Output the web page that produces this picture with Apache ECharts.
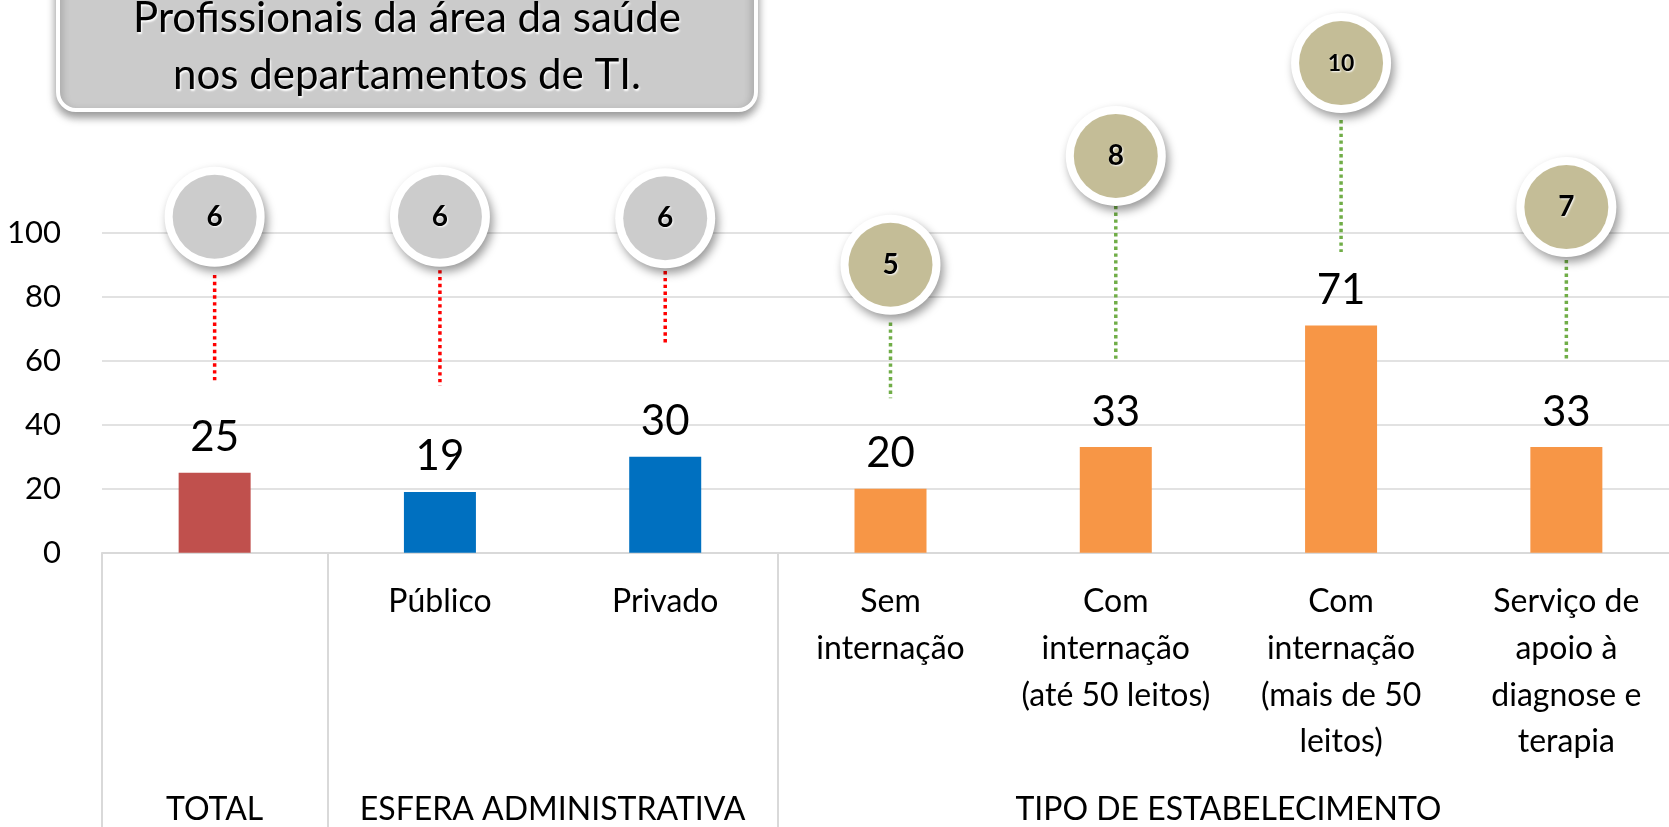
<!DOCTYPE html>
<html lang="pt">
<head>
    <meta charset="UTF-8">
    <title>Profissionais da área da saúde nos departamentos de TI</title>
    <script src="https://cdn.jsdelivr.net/npm/echarts@6/dist/echarts.min.js"></script>
    <style>
        * { padding: 0; margin: 0; }
        html, body { width: 100%; height: 100%; background: #fff; }
        #chart { width: 1669px; height: 827px; }
    </style>
</head>
<body>
    <div id="chart"></div>
</body>
</html>
<script>
    // categorias (rótulo de cada coluna)
    let categories = ['', 'Público', 'Privado', 'Sem\ninternação', 'Com\ninternação\n(até 50 leitos)',
        'Com\ninternação\n(mais de 50\nleitos)', 'Serviço de\napoio à\ndiagnose e\nterapia'];
    // grupos do eixo x
    let groupNames = ['TOTAL', 'ESFERA ADMINISTRATIVA', 'TIPO DE ESTABELECIMENTO'];
    let groupSpans = [1, 2, 4];
    // percentuais (barras)
    let values = [25, 19, 30, 20, 33, 71, 33];
    // número de profissionais (bolhas)
    let bubbleValues = [6, 6, 6, 5, 8, 10, 7];
    // altura das bolhas e das linhas pontilhadas, em unidades do eixo
    let bubbleY = [105, 105, 104.5, 90, 124, 153, 108];
    let leaderTop = [86.8, 88.3, 88, 71.9, 108.4, 135.2, 91.5];
    let leaderBottom = [53.3, 52.1, 64.6, 48.3, 60, 94, 60];
    let yTicks = [0, 20, 40, 60, 80, 100];

    let barColors = ['#c0504d', '#0070c0', '#0070c0', '#f79646', '#f79646', '#f79646', '#f79646'];
    let bubbleColors = ['#cccccc', '#cccccc', '#cccccc', '#c4bd97', '#c4bd97', '#c4bd97', '#c4bd97'];
    let leaderColors = ['#ff0000', '#ff0000', '#ff0000', '#70ad47', '#70ad47', '#70ad47', '#70ad47'];

    // limites e centros dos grupos
    let bounds = [0];
    let centers = [];
    groupSpans.forEach(function (s, i) {
        centers.push(bounds[i] + s / 2);
        bounds.push(bounds[i] + s);
    });

    const font = 'Lato';
    var myChart = echarts.init(document.getElementById('chart'));

    option = {
        animation: false,
        title: {
            text: 'Profissionais da área da saúde\nnos departamentos de TI.',
            left: 332,
            top: -40,
            textAlign: 'center',
            padding: [30, 75, 6, 75],
            backgroundColor: '#cbcbcb',
            borderColor: '#fff',
            borderWidth: 4,
            borderRadius: 18,
            shadowBlur: 10,
            shadowColor: 'rgba(0,0,0,0.4)',
            shadowOffsetY: 5,
            textStyle: {
                fontFamily: font,
                fontSize: 42,
                fontWeight: 'normal',
                color: '#000',
                lineHeight: 57,
                textShadowColor: '#fff',
                textShadowBlur: 2,
                textShadowOffsetX: 1,
                textShadowOffsetY: 2
            }
        },
        grid: {
            left: 102,
            right: -10,
            top: 232.7,
            bottom: 274.3,
            containLabel: false,
            outerBoundsMode: 'none'
        },
        xAxis: [
            {
                type: 'category',
                data: categories,
                axisLine: { lineStyle: { color: '#d9d9d9', width: 2 } },
                axisTick: { show: false },
                axisLabel: {
                    interval: 0,
                    margin: 26,
                    fontFamily: font,
                    fontSize: 32,
                    lineHeight: 46.7,
                    color: '#000',
                    align: 'center'
                }
            },
            {
                // eixo dos grupos: divisórias e nomes dos grupos
                type: 'value',
                min: 0,
                max: bounds[bounds.length - 1],
                position: 'bottom',
                axisLine: { show: false },
                splitLine: { show: false },
                axisTick: {
                    show: true,
                    customValues: bounds,
                    length: 280,
                    lineStyle: { color: '#d9d9d9', width: 2 }
                },
                axisLabel: {
                    customValues: centers,
                    margin: 234,
                    fontFamily: font,
                    fontSize: 32,
                    lineHeight: 46.7,
                    color: '#000',
                    formatter: function (v) {
                        let i = centers.indexOf(v);
                        return i >= 0 ? groupNames[i] : '';
                    }
                }
            }
        ],
        yAxis: {
            type: 'value',
            min: yTicks[0],
            max: yTicks[yTicks.length - 1],
            interval: 20,
            axisLine: { show: false },
            axisTick: { show: false },
            splitLine: { lineStyle: { color: '#d9d9d9', width: 1.5 } },
            axisLabel: {
                margin: 41,
                fontFamily: font,
                fontSize: 31,
                color: '#000'
            }
        },
        series: [
            {
                type: 'bar',
                barWidth: 72,
                data: values.map(function (v, i) {
                    return { value: v, itemStyle: { color: barColors[i] } };
                }),
                label: {
                    show: true,
                    position: 'top',
                    distance: 14,
                    fontFamily: font,
                    fontSize: 42,
                    color: '#000'
                }
            },
            {
                // linhas pontilhadas
                type: 'custom',
                clip: false,
                data: categories.map(function (c, i) { return [i, leaderTop[i], leaderBottom[i]]; }),
                renderItem: function (params, api) {
                    let i = api.value(0);
                    let p1 = api.coord([i, api.value(1)]);
                    let p2 = api.coord([i, api.value(2)]);
                    return {
                        type: 'line',
                        shape: { x1: p1[0], y1: p1[1], x2: p2[0], y2: p2[1] },
                        style: { stroke: leaderColors[i], lineWidth: 3.5, lineDash: [3.4, 3.4] }
                    };
                },
                z: 3
            },
            {
                // bolhas com o número de profissionais
                type: 'custom',
                clip: false,
                data: categories.map(function (c, i) { return [i, bubbleY[i], bubbleValues[i]]; }),
                renderItem: function (params, api) {
                    let i = api.value(0);
                    let p = api.coord([i, api.value(1)]);
                    let txt = String(api.value(2));
                    let size = txt.length > 1 ? 23 : 28;
                    return {
                        type: 'group',
                        children: [
                            {
                                type: 'circle',
                                shape: { cx: p[0], cy: p[1], r: 50 },
                                style: {
                                    fill: '#fff',
                                    shadowBlur: 10,
                                    shadowColor: 'rgba(0,0,0,0.4)',
                                    shadowOffsetX: 3,
                                    shadowOffsetY: 5
                                }
                            },
                            {
                                type: 'circle',
                                shape: { cx: p[0], cy: p[1], r: 42 },
                                style: { fill: bubbleColors[i] }
                            },
                            {
                                type: 'text',
                                x: p[0],
                                y: p[1],
                                style: {
                                    text: txt,
                                    font: 'bold ' + size + 'px ' + font,
                                    fill: '#000',
                                    align: 'center',
                                    verticalAlign: 'middle',
                                    textShadowColor: '#fff',
                                    textShadowBlur: 2,
                                    textShadowOffsetX: 1,
                                    textShadowOffsetY: 1
                                }
                            }
                        ]
                    };
                },
                z: 4
            }
        ]
    };
    myChart.setOption(option);
</script>
